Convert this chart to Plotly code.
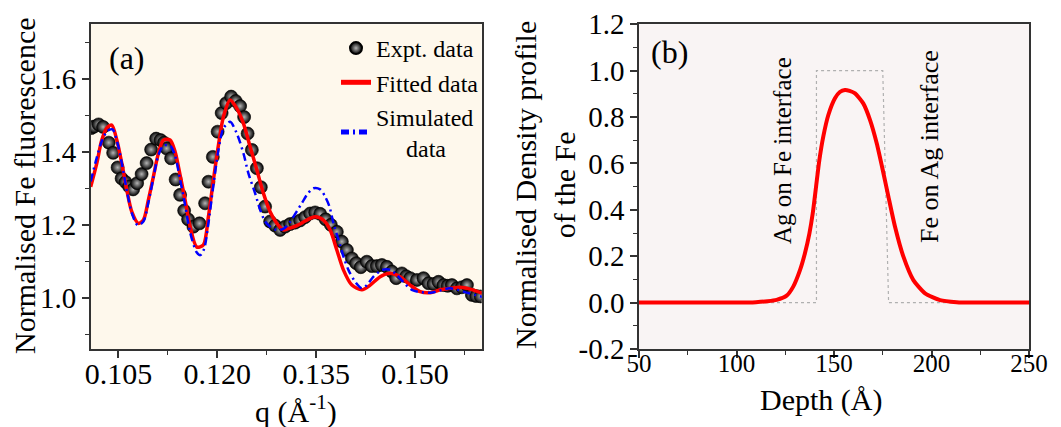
import plotly.graph_objects as go

# ---------------- Panel (a) data ----------------
q_expt = [0.1009, 0.10131, 0.10200, 0.10268, 0.10354, 0.10420, 0.10488, 0.10549, 0.10609, 0.10662,
          0.10723, 0.10784, 0.10852, 0.10928, 0.10996, 0.11072, 0.11140, 0.11193, 0.11231, 0.11299,
          0.11368, 0.11436, 0.11497, 0.11557, 0.11638, 0.11729, 0.11815, 0.11866, 0.11932, 0.12005,
          0.12066, 0.12134, 0.12210, 0.12278, 0.12346, 0.12407, 0.12460, 0.12524, 0.12600, 0.12660,
          0.12725, 0.12801, 0.12877, 0.12953, 0.13028, 0.13104, 0.13180, 0.13256, 0.13332, 0.13408,
          0.13484, 0.13560, 0.13643, 0.13722, 0.13813, 0.13889, 0.13965, 0.14041, 0.14106, 0.14177,
          0.14268, 0.14344, 0.14420, 0.14496, 0.14572, 0.14648, 0.14713, 0.14799, 0.14864, 0.14925,
          0.15027, 0.15127, 0.15203, 0.15279, 0.15355, 0.15431, 0.15494, 0.15558, 0.15634, 0.15710,
          0.15786, 0.15861, 0.15927, 0.15995]
i_expt = [1.466, 1.470, 1.476, 1.469, 1.426, 1.398, 1.358, 1.328, 1.318, 1.306,
          1.298, 1.315, 1.340, 1.370, 1.407, 1.437, 1.433, 1.426, 1.410, 1.383,
          1.325, 1.283, 1.240, 1.216, 1.196, 1.205, 1.260, 1.319, 1.387, 1.456,
          1.507, 1.534, 1.552, 1.540, 1.526, 1.496, 1.451, 1.406, 1.356, 1.304,
          1.251, 1.210, 1.199, 1.187, 1.196, 1.203, 1.207, 1.213, 1.222, 1.232,
          1.235, 1.231, 1.216, 1.201, 1.182, 1.155, 1.132, 1.109, 1.096, 1.085,
          1.100, 1.088, 1.088, 1.091, 1.086, 1.073, 1.055, 1.068, 1.060, 1.055,
          1.050, 1.055, 1.041, 1.039, 1.045, 1.036, 1.034, 1.036, 1.027, 1.030,
          1.036, 1.009, 1.006, 1.005]

q_fit = [0.10080, 0.10172, 0.10248, 0.10333, 0.10400, 0.10476, 0.10552, 0.10628, 0.10703, 0.10803,
         0.10879, 0.10955, 0.11031, 0.11107, 0.11183, 0.11284, 0.11360, 0.11436, 0.11512, 0.11588,
         0.11689, 0.11789, 0.11865, 0.11941, 0.12017, 0.12093, 0.12194, 0.12295, 0.12396, 0.12498,
         0.12600, 0.12700, 0.12801, 0.12903, 0.13003, 0.13104, 0.13231, 0.13357, 0.13484, 0.13610,
         0.13712, 0.13813, 0.13914, 0.14041, 0.14193, 0.14319, 0.14471, 0.14597, 0.14773, 0.14925,
         0.15076, 0.15228, 0.15380, 0.15532, 0.15683, 0.15835, 0.16017]
i_fit = [1.305, 1.369, 1.433, 1.468, 1.474, 1.433, 1.369, 1.296, 1.237, 1.205,
         1.214, 1.269, 1.333, 1.397, 1.433, 1.433, 1.401, 1.337, 1.269, 1.196,
         1.140, 1.146, 1.223, 1.324, 1.419, 1.497, 1.543, 1.520, 1.479, 1.415,
         1.351, 1.287, 1.237, 1.205, 1.187, 1.192, 1.201, 1.214, 1.223, 1.214,
         1.187, 1.132, 1.077, 1.036, 1.023, 1.036, 1.059, 1.068, 1.059, 1.036,
         1.018, 1.015, 1.023, 1.027, 1.030, 1.025, 1.014]

q_sim = [0.10080, 0.10172, 0.10248, 0.10333, 0.10410, 0.10486, 0.10562, 0.10638, 0.10713, 0.10793,
         0.10879, 0.10955, 0.11031, 0.11107, 0.11183, 0.11284, 0.11360, 0.11436, 0.11512, 0.11588,
         0.11689, 0.11742, 0.11800, 0.11865, 0.11941, 0.12017, 0.12093, 0.12194, 0.12296, 0.12396,
         0.12472, 0.12574, 0.12650, 0.12726, 0.12801, 0.12903, 0.13003, 0.13104, 0.13206, 0.13282,
         0.13358, 0.13458, 0.13560, 0.13636, 0.13701, 0.13762, 0.13838, 0.13914, 0.13990, 0.14092,
         0.14193, 0.14268, 0.14368, 0.14496, 0.14621, 0.14722, 0.14950, 0.15228, 0.15532, 0.15810,
         0.16017]
i_sim = [1.320, 1.385, 1.430, 1.458, 1.462, 1.425, 1.360, 1.285, 1.228, 1.200,
         1.210, 1.262, 1.330, 1.392, 1.418, 1.418, 1.390, 1.325, 1.255, 1.180,
         1.125, 1.118, 1.135, 1.205, 1.310, 1.405, 1.465, 1.483, 1.451, 1.397,
         1.342, 1.287, 1.242, 1.210, 1.196, 1.187, 1.190, 1.209, 1.238, 1.260,
         1.283, 1.301, 1.298, 1.278, 1.251, 1.205, 1.160, 1.114, 1.077, 1.045,
         1.027, 1.036, 1.059, 1.077, 1.078, 1.064, 1.023, 1.015, 1.027, 1.014,
         1.004]

# ---------------- Panel (b) data ----------------
depth = [50, 100, 110, 116, 120.6, 125.7, 129.1, 132.6, 135.1, 137.4, 139.1, 140.8, 142.5, 144.5,
         147.1, 150.5, 153, 155.6, 158, 160.8, 165, 168.5, 171.9, 175, 177.9, 181.3, 185.6, 190.7,
         196.7, 204.4, 212.9, 221.5, 250]
density = [0, 0, 0.002, 0.006, 0.012, 0.030, 0.069, 0.141, 0.213, 0.299, 0.385, 0.500, 0.615, 0.716,
           0.809, 0.881, 0.908, 0.917, 0.913, 0.902, 0.859, 0.787, 0.687, 0.572, 0.457, 0.327, 0.198, 0.097,
           0.040, 0.011, 0.002, 0, 0]

step_depth = [50, 141, 141, 175, 178, 250]
step_density = [0, 0, 1, 1, 0, 0]

# tick labels
xa_tickvals = [0.105, 0.120, 0.135, 0.150]
xa_ticktext = ["0.105", "0.120", "0.135", "0.150"]
ya_tickvals = [1.0, 1.2, 1.4, 1.6]
ya_ticktext = ["1.0", "1.2", "1.4", "1.6"]
xb_tickvals = [50, 100, 150, 200, 250]
xb_ticktext = ["50", "100", "150", "200", "250"]
yb_tickvals = [-0.2, 0.0, 0.2, 0.4, 0.6, 0.8, 1.0, 1.2]
yb_ticktext = ["-0.2", "0.0", "0.2", "0.4", "0.6", "0.8", "1.0", "1.2"]

FONT = "Liberation Serif, Times New Roman, serif"
W, H = 1061, 427

def px_x(p):
    return p / W

def px_y(p):
    return 1 - p / H

fig = go.Figure()

fig.add_trace(go.Scatter(
    x=q_expt, y=i_expt, mode="markers", name="Expt. data",
    marker=dict(size=13, color="#000000", line=dict(color="black", width=0.6),
                gradient=dict(type="radial", color="#b4b4b4")),
    xaxis="x", yaxis="y"))
fig.add_trace(go.Scatter(
    x=q_fit, y=i_fit, mode="lines", name="Fitted data",
    line=dict(color="#ff0000", width=3.5, shape="spline", smoothing=0.8),
    xaxis="x", yaxis="y"))
fig.add_trace(go.Scatter(
    x=q_sim, y=i_sim, mode="lines", name="Simulated<br>\u00a0\u00a0\u00a0\u00a0\u00a0data",
    line=dict(color="#0000ff", width=2.5, dash="8px,4px,2px,4px", shape="spline", smoothing=0.8),
    xaxis="x", yaxis="y"))

fig.add_trace(go.Scatter(
    x=step_depth, y=step_density, mode="lines", showlegend=False,
    line=dict(color="#b0b0b0", width=1.2, dash="dot"),
    xaxis="x2", yaxis="y2"))
fig.add_trace(go.Scatter(
    x=depth, y=density, mode="lines", showlegend=False,
    line=dict(color="#ff0000", width=4, shape="spline", smoothing=0.6),
    xaxis="x2", yaxis="y2"))

ydom = [px_y(349), px_y(24.3)]
axis_common = dict(showline=True, linecolor="#333333", linewidth=1.5, mirror=True,
                   ticks="outside", ticklen=7, tickwidth=1.5, tickcolor="#333333",
                   showgrid=False, zeroline=False, automargin=False)

fig.update_layout(
    width=W, height=H,
    margin=dict(l=0, r=0, t=0, b=0, autoexpand=False),
    paper_bgcolor="white", plot_bgcolor="white",
    font=dict(family=FONT, color="black"),
    xaxis=dict(domain=[px_x(90.7), px_x(481.7)], range=[0.1008, 0.1601], anchor="y",
               tickvals=xa_tickvals, ticktext=xa_ticktext, tickfont=dict(size=30, family=FONT),
               ticklabelstandoff=-10,
               minor=dict(dtick=0.0075, tick0=0.105, ticklen=4, tickwidth=1.2, tickcolor="#333333", ticks="outside"),
               **axis_common),
    yaxis=dict(domain=ydom, range=[0.861, 1.75], anchor="x",
               tickvals=ya_tickvals, ticktext=ya_ticktext, tickfont=dict(size=29, family=FONT),
               minor=dict(dtick=0.1, tick0=0.9, ticklen=4, tickwidth=1.2, tickcolor="#333333", ticks="outside"),
               **axis_common),
    xaxis2=dict(domain=[px_x(639), px_x(1029)], range=[50, 250], anchor="y2",
                tickvals=xb_tickvals, ticktext=xb_ticktext, tickfont=dict(size=25, family=FONT),
                ticklabelstandoff=-16,
                minor=dict(dtick=25, tick0=50, ticklen=4, tickwidth=1.2, tickcolor="#333333", ticks="outside"),
                **axis_common),
    yaxis2=dict(domain=ydom, range=[-0.2, 1.2], anchor="x2",
                tickvals=yb_tickvals, ticktext=yb_ticktext, tickfont=dict(size=29, family=FONT),
                minor=dict(dtick=0.1, tick0=-0.2, ticklen=4, tickwidth=1.2, tickcolor="#333333", ticks="outside"),
                **axis_common),
    legend=dict(x=px_x(484), xanchor="right", y=px_y(26), yanchor="top",
                bgcolor="rgba(0,0,0,0)", font=dict(size=24, family=FONT),
                tracegroupgap=0, itemsizing="constant"),
    shapes=[
        dict(type="rect", xref="x domain", yref="y domain", x0=0, x1=1, y0=0, y1=1,
             fillcolor="#fef8ec", line=dict(width=0), layer="below"),
        dict(type="rect", xref="x2 domain", yref="y2 domain", x0=0, x1=1, y0=0, y1=1,
             fillcolor="#f9f4f4", line=dict(width=0), layer="below"),
    ],
    annotations=[
        dict(text="Normalised Fe fluorescence", xref="paper", yref="paper",
             x=px_x(24), y=px_y(186), textangle=-90, showarrow=False,
             font=dict(size=30, family=FONT), xanchor="center", yanchor="middle"),
        dict(text="q (Å<sup>-1</sup>)", xref="paper", yref="paper",
             x=px_x(296), y=px_y(409), showarrow=False,
             font=dict(size=30, family=FONT), xanchor="center", yanchor="middle"),
        dict(text="Normalised Density profile<br>of the Fe", xref="paper", yref="paper",
             x=px_x(545), y=px_y(185), textangle=-90, showarrow=False,
             font=dict(size=30, family=FONT), xanchor="center", yanchor="middle"),
        dict(text="Depth (Å)", xref="paper", yref="paper",
             x=px_x(821), y=px_y(400), showarrow=False,
             font=dict(size=30, family=FONT), xanchor="center", yanchor="middle"),
        dict(text="(a)", xref="paper", yref="paper", x=px_x(127), y=px_y(58), showarrow=False,
             font=dict(size=32, family=FONT), xanchor="center", yanchor="middle"),
        dict(text="(b)", xref="paper", yref="paper", x=px_x(669), y=px_y(52), showarrow=False,
             font=dict(size=32, family=FONT), xanchor="center", yanchor="middle"),
        dict(text="Ag on Fe interface", xref="paper", yref="paper", x=px_x(783), y=px_y(151),
             textangle=-90, showarrow=False, font=dict(size=25, family=FONT),
             xanchor="center", yanchor="middle"),
        dict(text="Fe on Ag interface", xref="paper", yref="paper", x=px_x(930), y=px_y(147),
             textangle=-90, showarrow=False, font=dict(size=26, family=FONT),
             xanchor="center", yanchor="middle"),
    ],
)

fig.write_html("out.html", config={"displayModeBar": False},
               post_script="document.body.style.margin='0';document.body.style.overflow='hidden';")
